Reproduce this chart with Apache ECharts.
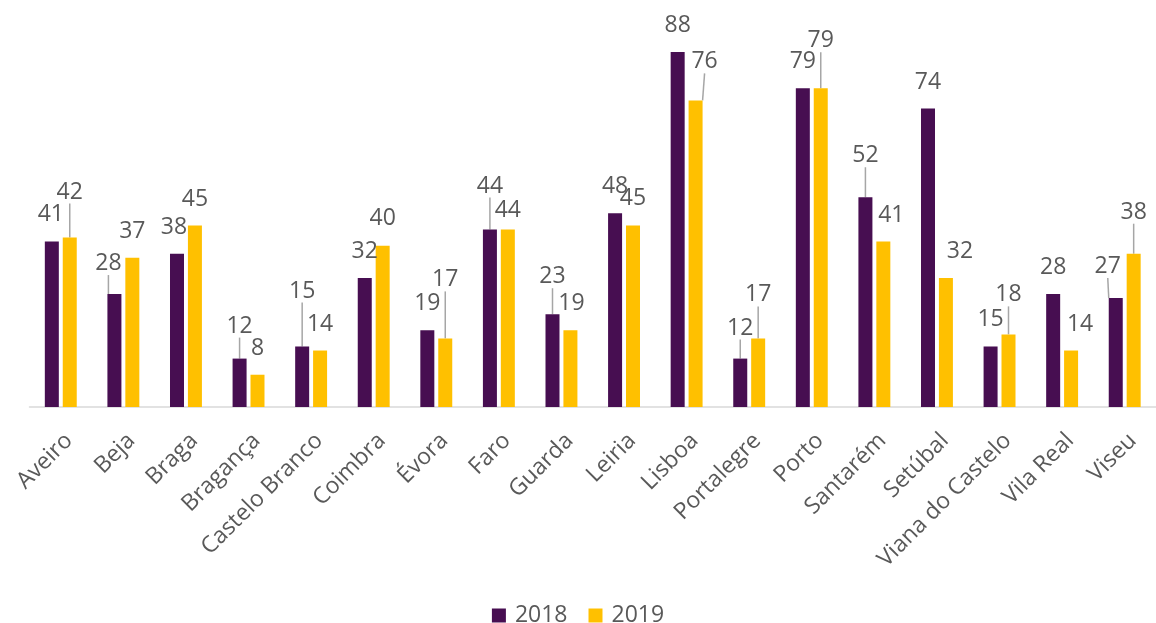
<!DOCTYPE html>
<html>
<head>
<meta charset="utf-8">
<script src="https://cdn.jsdelivr.net/npm/echarts@6/dist/echarts.min.js"></script>
<style>
  html, body { margin: 0; padding: 0; background: #fff; }
  #chart { width: 1156px; height: 623px; }
</style>
</head>
<body>
<div id="chart"></div>
<script>
// distritos
var categorias = ['Aveiro', 'Beja', 'Braga', 'Bragança', 'Castelo Branco', 'Coimbra', 'Évora', 'Faro', 'Guarda',
    'Leiria', 'Lisboa', 'Portalegre', 'Porto', 'Santarém', 'Setúbal', 'Viana do Castelo', 'Vila Real', 'Viseu'];
var valores2018 = [41, 28, 38, 12, 15, 32, 19, 44, 23, 48, 88, 12, 79, 52, 74, 15, 28, 27];
var valores2019 = [42, 37, 45, 8, 14, 40, 17, 44, 19, 45, 76, 17, 79, 41, 32, 18, 14, 38];

// deslocamento das etiquetas [dx, dy] (como no excel)
var desloc2018 = [[-1, -1], [-6, -4], [-3, 0], [0, -6], [0, -29], [0, 0], [0, 0], [0, -17], [0, -11],
    [0, 0], [0, 0], [0, -4], [0, 0], [0, -15], [0, 0], [0, -1], [0, 0], [-8, -5]];
var desloc2019 = [[0, -19], [0, 0], [0, 0], [0, 0], [0, 0], [0, -1], [0, -32], [0, 7], [1, 0],
    [0, -1], [9, -12], [0, -17], [0, -21], [8, 0], [14, 0], [0, -13], [9, 0], [0, -15]];

var fonte = 'Open Sans';
var cinza = '#595959';

function montaDados(valores, desloc) {
    return valores.map(function (v, i) {
        return { value: v, labelLine: { show: desloc[i][1] <= -4 } };
    });
}

function serie(nome, valores, desloc, cor) {
    return {
        name: nome,
        type: 'bar',
        barWidth: 14,
        barGap: '28%',
        data: montaDados(valores, desloc),
        itemStyle: { color: cor },
        label: {
            show: true,
            position: 'top',
            distance: 15,
            fontFamily: fonte,
            fontSize: 23,
            color: cinza
        },
        labelLine: {
            show: true,
            lineStyle: { color: '#a6a6a6', width: 1.5 }
        },
        labelLayout: function (p) {
            return { dx: desloc[p.dataIndex][0], dy: desloc[p.dataIndex][1] };
        }
    };
}

var option = {
    animation: false,
    textStyle: { fontFamily: fonte },
    legend: {
        data: ['2018', '2019'],
        top: 599,
        left: 'center',
        itemWidth: 14,
        itemHeight: 14,
        itemGap: 21,
        icon: 'rect',
        textStyle: { fontFamily: fonte, fontSize: 23, color: cinza, padding: [0, 0, 0, 4] }
    },
    grid: {
        left: 29.5,
        width: 1134.5,
        top: 3.6,
        height: 403.4
    },
    xAxis: {
        type: 'category',
        data: categorias,
        axisLine: { lineStyle: { color: '#d9d9d9', width: 1.5 } },
        axisTick: { show: false },
        axisLabel: {
            interval: 0,
            rotate: 45,
            align: 'right',
            verticalAlign: 'top',
            margin: 22,
            fontFamily: fonte,
            fontSize: 23,
            color: cinza
        }
    },
    yAxis: {
        type: 'value',
        min: 0,
        max: 100,
        show: false,
        splitLine: { show: false }
    },
    series: [
        serie('2018', valores2018, desloc2018, '#470e51'),
        serie('2019', valores2019, desloc2019, '#ffc000')
    ]
};

//inicializar
var myChart = echarts.init(document.getElementById('chart'));
myChart.setOption(option);
</script>
</body>
</html>
